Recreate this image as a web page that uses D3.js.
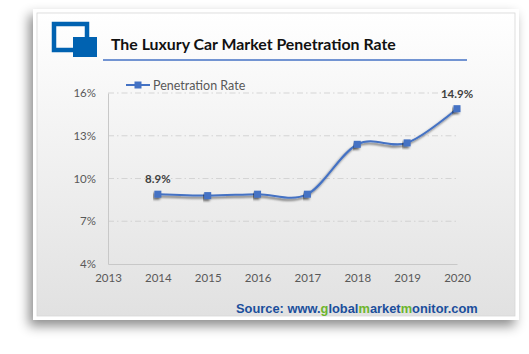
<!DOCTYPE html>
<html><head><meta charset="utf-8">
<script src="https://cdn.jsdelivr.net/npm/d3@7"></script>
<style>html,body{margin:0;padding:0;background:#fff;}svg{display:block;}</style>
</head><body>
<svg id="c" width="529" height="354"></svg>
<script>
const years = [2014, 2015, 2016, 2017, 2018, 2019, 2020];
const rates = [8.9, 8.8, 8.9, 8.9, 12.4, 12.5, 14.9];
const xTicks = [2013, 2014, 2015, 2016, 2017, 2018, 2019, 2020];
const yTicks = [4, 7, 10, 13, 16];
const labelled = [2014, 2020];
const seriesName = "Penetration Rate";
const titleText = "The Luxury Car Market Penetration Rate";

const svg = d3.select("#c");
const defs = svg.append("defs");
const g1 = defs.append("linearGradient").attr("id","bg").attr("x1",0).attr("y1",0).attr("x2",0).attr("y2",1);
g1.append("stop").attr("offset","0%").attr("stop-color","#ffffff");
g1.append("stop").attr("offset","100%").attr("stop-color","#e1e1e1");
const f = defs.append("filter").attr("id","card").attr("x","-20%").attr("y","-20%").attr("width","140%").attr("height","150%");
f.append("feDropShadow").attr("dx",-4).attr("dy",6).attr("stdDeviation",6).attr("flood-color","#000").attr("flood-opacity",0.45);
const f2 = defs.append("filter").attr("id","ls").attr("x","-10%").attr("y","-50%").attr("width","130%").attr("height","200%");
f2.append("feDropShadow").attr("dx",-1.5).attr("dy",2).attr("stdDeviation",1.2).attr("flood-color","#000").attr("flood-opacity",0.55);

// card
svg.append("rect").attr("x",33).attr("y",9).attr("width",486).attr("height",311).attr("fill","#fff").attr("filter","url(#card)");
svg.append("rect").attr("x",37).attr("y",13).attr("width",478).attr("height",303).attr("fill","url(#bg)").attr("stroke","#d6d6d6").attr("stroke-width",0.8);

// logo
svg.append("rect").attr("x",54).attr("y",24).attr("width",33).attr("height",26).attr("fill","none").attr("stroke","#0062b1").attr("stroke-width",4.5);
svg.append("rect").attr("x",73).attr("y",37).attr("width",24).attr("height",20).attr("fill","#0062b1");

// title
const t = svg.append("text").attr("x",111).attr("y",50).attr("font-family","Lato, 'Open Sans', sans-serif")
  .attr("font-weight","bold").attr("font-size",16).attr("fill","#111").text(titleText);
const tw = t.node().getComputedTextLength();
t.attr("font-size", 16*285/tw);
svg.append("line").attr("x1",103).attr("x2",467).attr("y1",60).attr("y2",60).attr("stroke","#4472c4").attr("stroke-width",1.6);

// scales
const x = d3.scaleLinear().domain([2013,2020]).range([108,457]);
const y = d3.scaleLinear().domain([4,16]).range([264,93]);

// grid
svg.append("g").selectAll("line").data(yTicks.filter(v=>v>4)).join("line")
  .attr("x1",x(2013)).attr("x2",x(2020)).attr("y1",d=>y(d)).attr("y2",d=>y(d))
  .attr("stroke","#d0d0d0").attr("stroke-width",0.9).attr("stroke-dasharray","6,3,1.5,3");

// axes
const yAxis = d3.axisLeft(y).tickValues(yTicks).tickFormat(d=>d+"%").tickSize(0).tickPadding(12);
const ya = svg.append("g").attr("transform",`translate(${x(2013)},0)`).call(yAxis);
ya.select(".domain").attr("stroke","#c8c8c8").attr("stroke-width",1);
ya.selectAll("text").attr("font-family","Lato, sans-serif").attr("font-size",11.5).attr("fill","#595959");

const xAxis = d3.axisBottom(x).tickValues(xTicks).tickFormat(d3.format("d")).tickSize(0).tickPadding(10);
const xa = svg.append("g").attr("transform",`translate(0,${y(4)})`).call(xAxis);
xa.select(".domain").attr("stroke","#c8c8c8").attr("stroke-width",1.2);
xa.selectAll("text").attr("font-family","Lato, sans-serif").attr("font-size",11.5).attr("fill","#595959");

// line
const pts = years.map((yr,i)=>[x(yr), y(rates[i])]);
const line = d3.line().curve(d3.curveCardinal.tension(0));
svg.append("path").attr("d",line(pts)).attr("fill","none").attr("stroke","#4472c4").attr("stroke-width",2).attr("filter","url(#ls)");
svg.append("g").selectAll("rect").data(pts).join("rect")
  .attr("x",d=>d[0]-3.5).attr("y",d=>d[1]-3.5).attr("width",7).attr("height",7)
  .attr("fill","#4472c4").attr("filter","url(#ls)");

// data labels
svg.append("g").selectAll("text").data(years.map((yr,i)=>({yr,v:rates[i]})).filter(d=>labelled.includes(d.yr))).join("text")
  .attr("x",d=>x(d.yr)).attr("y",d=>y(d.v)-11).attr("text-anchor","middle")
  .attr("font-family","Lato, sans-serif").attr("font-weight","bold").attr("font-size",11.5).attr("fill","#404040")
  .text(d=>d.v.toFixed(1)+"%");

// legend
const lg = svg.append("g");
lg.append("line").attr("x1",126).attr("x2",150).attr("y1",85).attr("y2",85).attr("stroke","#4472c4").attr("stroke-width",2);
lg.append("rect").attr("x",134.5).attr("y",81.5).attr("width",7).attr("height",7).attr("fill","#4472c4");
lg.append("text").attr("x",153).attr("y",89.5).attr("font-family","Lato, sans-serif").attr("font-size",12.5).attr("fill","#595959").text(seriesName);

// source
const src = svg.append("text").attr("x",236).attr("y",313).attr("font-family","'Liberation Sans', Arial, sans-serif")
  .attr("font-weight","bold").attr("font-size",13).attr("fill","#1b4f9c");
const parts = [["Source: www.","#1b4f9c"],["g","#6db52c"],["lobal","#1b4f9c"],["m","#6db52c"],["arket","#1b4f9c"],["m","#6db52c"],["onitor.com","#1b4f9c"]];
parts.forEach(p=>src.append("tspan").attr("fill",p[1]).text(p[0]));
const sw = src.node().getComputedTextLength();
src.attr("font-size", 13*242/sw);
</script>
</body></html>
